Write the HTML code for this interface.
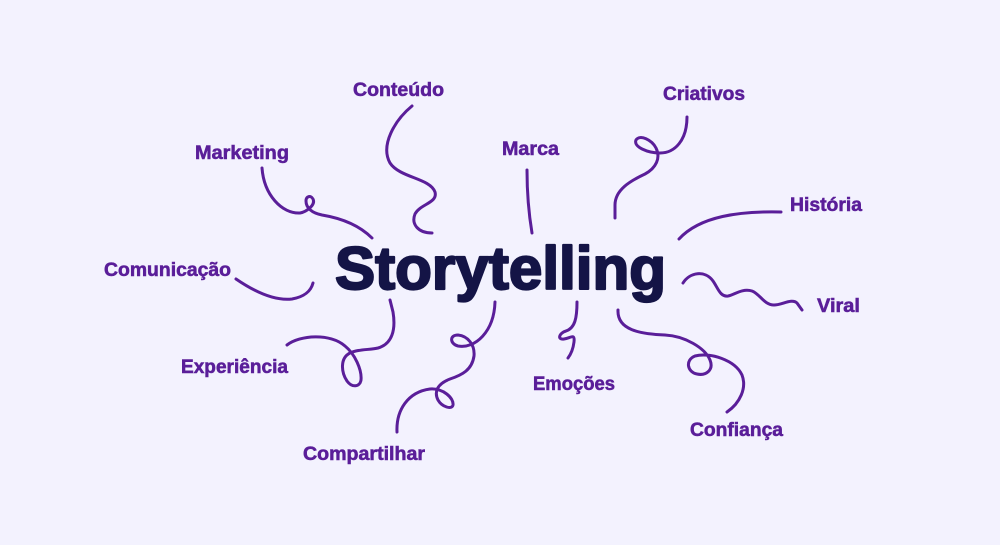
<!DOCTYPE html>
<html><head><meta charset="utf-8"><style>
html,body{margin:0;padding:0;background:#f3f2fe;}
svg{display:block;}
.l{font-family:"Liberation Sans",sans-serif;font-weight:bold;font-size:19px;fill:#5a1e99;stroke:#5a1e99;stroke-width:0.55px;}
.c{fill:none;stroke:#5a1e99;stroke-width:3;stroke-linecap:round;stroke-linejoin:round;}
</style></head><body>
<svg width="1000" height="545" viewBox="0 0 1000 545" xmlns="http://www.w3.org/2000/svg">
<rect width="1000" height="545" fill="#f3f2fe"/>
<text x="335" y="289" font-family="Liberation Sans, sans-serif" font-weight="bold" font-size="60" fill="#141446" stroke="#141446" stroke-width="2.2" stroke-linejoin="round" textLength="331" lengthAdjust="spacingAndGlyphs">Storytelling</text>

<text class="l" x="353" y="96" textLength="91" lengthAdjust="spacingAndGlyphs">Conteúdo</text>
<text class="l" x="195" y="159" textLength="94" lengthAdjust="spacingAndGlyphs">Marketing</text>
<text class="l" x="502" y="155" textLength="57" lengthAdjust="spacingAndGlyphs">Marca</text>
<text class="l" x="663" y="100" textLength="82" lengthAdjust="spacingAndGlyphs">Criativos</text>
<text class="l" x="790" y="211" textLength="72" lengthAdjust="spacingAndGlyphs">História</text>
<text class="l" x="104" y="276" textLength="127" lengthAdjust="spacingAndGlyphs">Comunicação</text>
<text class="l" x="817" y="312" textLength="43" lengthAdjust="spacingAndGlyphs">Viral</text>
<text class="l" x="181" y="373" textLength="107" lengthAdjust="spacingAndGlyphs">Experiência</text>
<text class="l" x="533" y="390" textLength="82" lengthAdjust="spacingAndGlyphs">Emoções</text>
<text class="l" x="690" y="436" textLength="93" lengthAdjust="spacingAndGlyphs">Confiança</text>
<text class="l" x="303" y="460" textLength="122" lengthAdjust="spacingAndGlyphs">Compartilhar</text>

<!-- Marketing -->
<path class="c" d="M262,168 C264,195 282,214 300,213 C306,212 316,205 313,199 C311,195 306,196 306,201 C306,208 312,213 322,215 C340,218 358,224 372,238"/>
<!-- Conteúdo -->
<path class="c" d="M412,106 C395,120 380,145 390,163 C400,178 430,178 435,192 C438,203 420,204 415,214 C411,224 418,233 432,233"/>
<!-- Marca -->
<path class="c" d="M527,170 C527,195 529,215 532,233"/>
<!-- Criativos -->
<path class="c" d="M687,117 C687,140 675,153 660,153 C648,153 633,147 636,140 C640,134 652,140 656,148 C661,158 656,168 645,174 C630,181 615,190 615,205 L615,218"/>
<!-- História -->
<path class="c" d="M781,212 C740,211 700,216 679,239"/>
<!-- Comunicação -->
<path class="c" d="M236,279 C255,292 275,301 292,299 C304,297 311,291 313,283"/>
<!-- Experiência -->
<path class="c" d="M287,345 C300,335 330,333 345,346 C355,354 362,370 361,380 C360,387 352,388 347,381 C341,372 340,358 350,353 C358,349 370,350 378,348 C392,344 396,330 393,312 L390,300"/>
<!-- Compartilhar -->
<path class="c" d="M397,432 C396,410 408,392 430,389 C443,388 454,398 453,405 C452,410 442,407 438,400 C434,392 437,384 450,379 C462,375 472,370 474,356 C475,345 468,336 458,335 C449,335 450,344 458,346 C475,349 494,332 495,302"/>
<!-- Emoções -->
<path class="c" d="M577,302 C577,318 575,328 566,331 C559,333 557,340 564,339 C571,338 575,333 574,342 C573,350 571,354 568,358"/>
<!-- Viral -->
<path class="c" d="M683,283 C690,272 705,270 713,281 C718,288 720,297 728,296 C734,295 742,288 752,291 C760,294 764,305 774,305 C782,305 792,298 797,303 L802,310"/>
<!-- Confiança -->
<path class="c" d="M618,310 C617,330 640,334 665,335 C685,336 705,348 710,360 C714,370 706,376 697,374 C687,372 685,360 695,356 C710,352 735,360 742,375 C747,388 740,403 727,412"/>
</svg>
</body></html>
